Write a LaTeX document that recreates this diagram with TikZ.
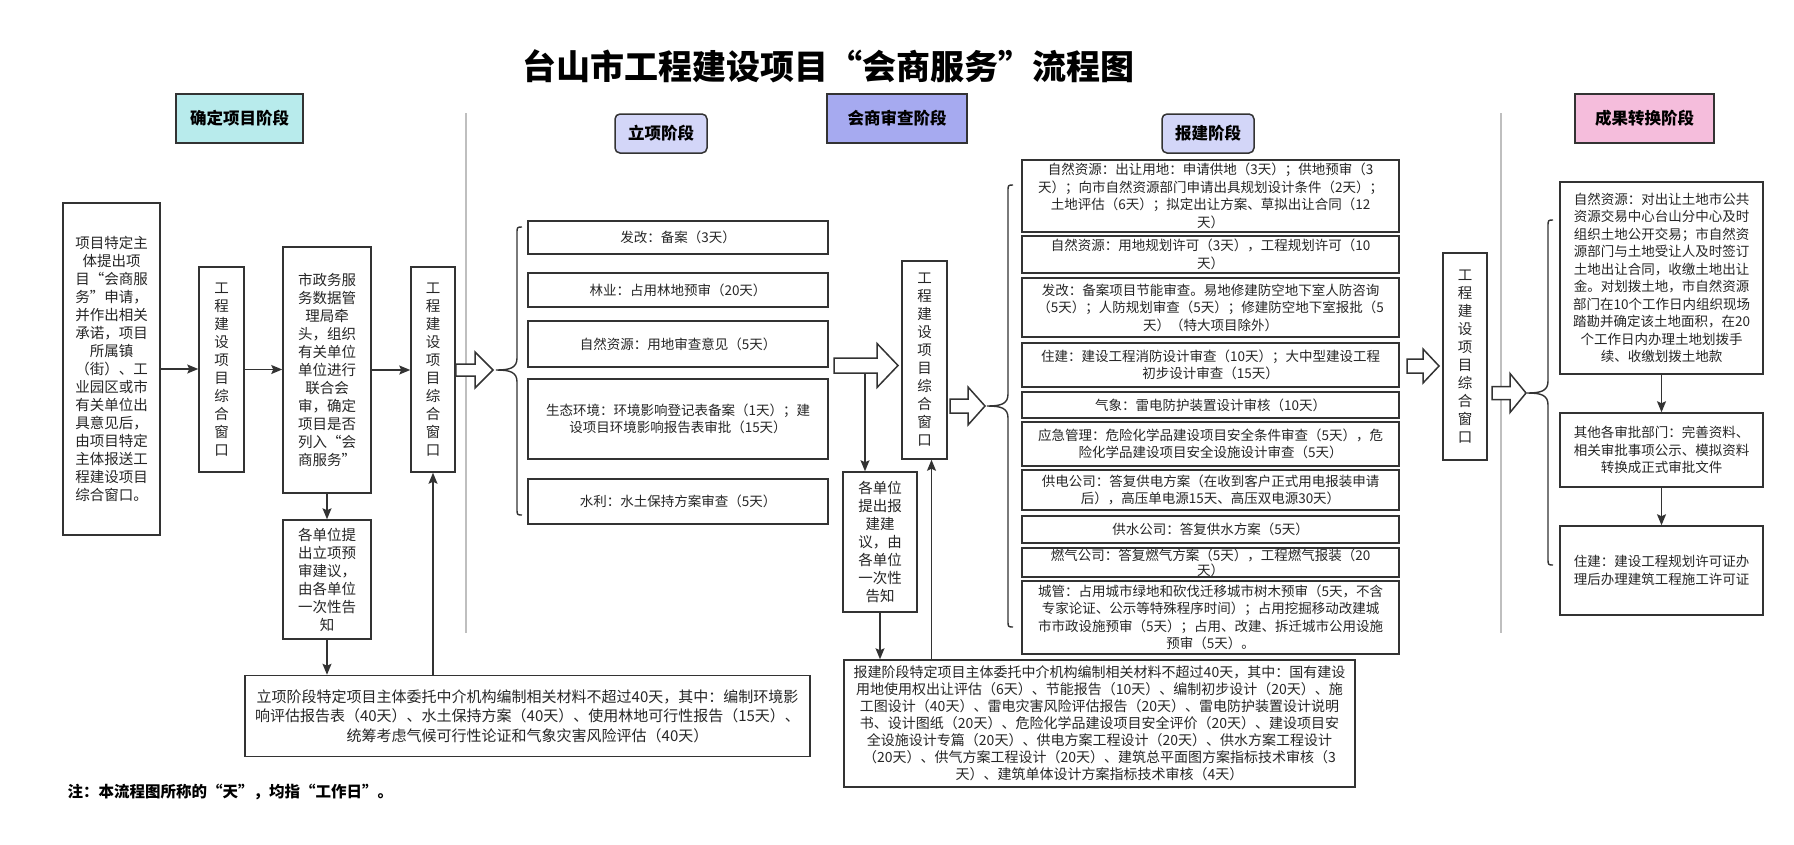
\documentclass[tikz,border=0pt]{standalone}
\usepackage{fontspec}
\setmainfont{Noto Sans CJK SC}
\newfontfamily\fwq[RawFeature=+fwid]{Noto Sans CJK SC}
\usetikzlibrary{calc,arrows.meta}
\definecolor{cyanbox}{HTML}{B8EBEC}
\definecolor{lavbox}{HTML}{D3D6F8}
\definecolor{perbox}{HTML}{A6AAF0}
\definecolor{pinkbox}{HTML}{F5BDDC}
\newcommand\openq{{\fwq “}}
\newcommand\closeq{{\fwq ”}}
\def\vwin{工\\程\\建\\设\\项\\目\\综\\合\\窗\\口}
\def\leftbrace(#1,#2,#3,#4){\draw[bracel] (#1+5,#2) .. controls (#1,#2) .. (#1,#2+7) -- (#1,#4-12) .. controls (#1,#4-2) and (#1-7,#4) .. (#1-21,#4) .. controls (#1-7,#4) and (#1,#4+2) .. (#1,#4+12) -- (#1,#3-7) .. controls (#1,#3) .. (#1+5,#3);}
\def\fatarrow(#1)(#2)(#3:#4:#5){\draw[fat] ($(#1)+(0,-#5)$) -- ($(#2)+(-#3,-#5)$) -- ($(#2)+(-#3,-#4)$) -- (#2) -- ($(#2)+(-#3,#4)$) -- ($(#2)+(-#3,#5)$) -- ($(#1)+(0,#5)$) -- cycle;}
\tikzset{
	box/.style={draw=black!80, line width=1.5pt, fill=white, inner sep=0pt, align=center, text=black!85},
	sz/.style 2 args={minimum width=#1pt, minimum height=#2pt},
	txtS/.style={font=\fontsize{13.5pt}{17.5pt}\selectfont},
	txtM/.style={font=\fontsize{14.5pt}{18pt}\selectfont},
	stagebox/.style={box, text=black, font=\bfseries\fontsize{16.5pt}{18pt}\selectfont},
	arr/.style={draw=black!80, line width=1.4pt, -{Stealth[length=11pt,width=9pt,inset=2pt]}},
	fat/.style={draw=black!80, line width=1.5pt, fill=white, line join=miter},
	bracel/.style={draw=black!80, line width=1.4pt},
	sep/.style={draw=black!25, line width=2pt},
}
\begin{document}
\begin{tikzpicture}[x=1pt,y=-1pt]
		%%%%% START %%%%%
		\useasboundingbox (0,0) rectangle (1794,844);
		
		\node[font=\bfseries\fontsize{34pt}{36pt}\selectfont] (title) at (828.5,66) {台山市工程建设项目\openq 会商服务\closeq 流程图};
		
		\draw[sep] (466,113) -- (466,633);
		\draw[sep] (1501,113) -- (1501,633);
		
		\node[stagebox, fill=cyanbox, sz={127}{49}] (hd1) at (239.5,118.5) {确定项目阶段};
		\node[stagebox, fill=lavbox, rounded corners=5pt, sz={92}{39}] (hd2) at (661,133.5) {立项阶段};
		\node[stagebox, fill=perbox, sz={140}{49}] (hd3) at (897,118.5) {会商审查阶段};
		\node[stagebox, fill=lavbox, rounded corners=5pt, sz={92}{39}] (hd4) at (1208,133.5) {报建阶段};
		\node[stagebox, fill=pinkbox, sz={139}{49}] (hd5) at (1644.5,118.5) {成果转换阶段};
		
		% determine stage
		\node[box, txtM, sz={97}{332}] (p1) at (111.5,369) {项目特定主\\体提出项\\目\openq 会商服\\务\closeq 申请，\\并作出相关\\承诺，项目\\所属镇\\（街）、工\\业园区或市\\有关单位出\\具意见后，\\由项目特定\\主体报送工\\程建设项目\\综合窗口。};
		\node[box, txtM, sz={45}{205}] (w1) at (221.5,369.5) {\vwin};
		\node[box, txtM, sz={88}{246}] (p2) at (327,370) {市政务服\\务数据管\\理局牵\\头，组织\\有关单位\\单位进行\\联合会\\审，确定\\项目是否\\列入\openq 会\\商服务\closeq};
		\node[box, txtM, sz={44}{205}] (w2) at (433,369.5) {\vwin};
		\node[box, txtM, sz={88}{119}] (p3) at (327,579.5) {各单位提\\出立项预\\审建议，\\由各单位\\一次性告\\知};
		\node[box, font=\fontsize{15pt}{19.5pt}\selectfont, sz={565}{81}] (b1) at (527.5,716) {立项阶段特定项目主体委托中介机构编制相关材料不超过40天，其中：编制环境影\\响评估报告表（40天）、水土保持方案（40天）、使用林地可行性报告（15天）、\\统筹考虑气候可行性论证和气象灾害风险评估（40天）};
		
		\draw[arr] (p1.east) -- (p1.east -| w1.west);
		\draw[arr] (w1.east) -- (w1.east -| p2.west);
		\draw[arr] (p2.east) -- (p2.east -| w2.west);
		\draw[arr] (p2.south) -- (p3.north);
		\draw[arr] (p3.south) -- (p3.south |- b1.north);
		\draw[arr] (b1.north -| w2.south) -- (w2.south);
		
		% project stage
		\node[box, txtS, sz={300}{33}] (l1) at (678,237.5) {发改：备案（3天）};
		\node[box, txtS, sz={300}{34}] (l2) at (678,290) {林业：占用林地预审（20天）};
		\node[box, txtS, sz={300}{46}] (l3) at (678,344) {自然资源：用地审查意见（5天）};
		\node[box, txtS, sz={300}{80}] (l4) at (678,419) {生态环境：环境影响登记表备案（1天）；建\\设项目环境影响报告表审批（15天）};
		\node[box, txtS, sz={300}{45}] (l5) at (678,501.5) {水利：水土保持方案审查（5天）};
		
		\coordinate (t1) at (493,370);
		\coordinate (f1) at (w2.east |- t1);
		\fatarrow(f1)(t1)(18:18:6);
		\leftbrace(517,227,515,370);
		
		% joint review
		\node[box, txtM, sz={45}{198}] (w3) at (924.5,360) {\vwin};
		\node[box, txtM, sz={74}{140}] (p4) at (880,542) {各单位\\提出报\\建建\\议，由\\各单位\\一次性\\告知};
		\node[box, font=\fontsize{14pt}{17pt}\selectfont, sz={511}{127}] (b2) at (1099.5,723.5) {报建阶段特定项目主体委托中介机构编制相关材料不超过40天，其中：国有建设\\用地使用权出让评估（6天）、节能报告（10天）、编制初步设计（20天）、施\\工图设计（40天）、雷电灾害风险评估报告（20天）、雷电防护装置设计说明\\书、设计图纸（20天）、危险化学品建设项目安全评价（20天）、建设项目安\\全设施设计专篇（20天）、供电方案工程设计（20天）、供水方案工程设计\\（20天）、供气方案工程设计（20天）、建筑总平面图方案指标技术审核（3\\天）、建筑单体设计方案指标技术审核（4天）};
		
		\coordinate (f2) at (834,365.5);
		\coordinate (t2) at (898,365.5);
		\fatarrow(f2)(t2)(21:22:7.5);
		\coordinate (d2) at (865,373);
		\draw[arr] (d2) -- (d2 |- p4.north);
		\draw[arr] (p4.south) -- (p4.south |- b2.north);
		\draw[arr] ($(b2.north -| w3.south)+(7,0)$) -- ($(w3.south)+(7,0)$);
		
		% construction stage
		\node[box, txtS, sz={377}{72}] (s1) at (1210.5,196) {自然资源：出让用地：申请供地（3天）；供地预审（3\\天）；向市自然资源部门申请出具规划设计条件（2天）；\\土地评估（6天）；拟定出让方案、草拟出让合同（12\\天）};
		\node[box, txtS, sz={377}{37}] (s2) at (1210.5,254.5) {自然资源：用地规划许可（3天），工程规划许可（10\\天）};
		\node[box, txtS, sz={377}{59}] (s3) at (1210.5,307.5) {发改：备案项目节能审查。易地修建防空地下室人防咨询\\（5天）；人防规划审查（5天）；修建防空地下室报批（5\\天）（特大项目除外）};
		\node[box, txtS, sz={377}{44}] (s4) at (1210.5,365) {住建：建设工程消防设计审查（10天）；大中型建设工程\\初步设计审查（15天）};
		\node[box, txtS, sz={377}{26}] (s5) at (1210.5,405) {气象：雷电防护装置设计审核（10天）};
		\node[box, txtS, sz={377}{44}] (s6) at (1210.5,444) {应急管理：危险化学品建设项目安全条件审查（5天），危\\险化学品建设项目安全设施设计审查（5天）};
		\node[box, txtS, sz={377}{40}] (s7) at (1210.5,490) {供电公司：答复供电方案（在收到客户正式用电报装申请\\后），高压单电源15天、高压双电源30天）};
		\node[box, txtS, sz={377}{27}] (s8) at (1210.5,529.5) {供水公司：答复供水方案（5天）};
		\node[box, font=\fontsize{13.5pt}{15pt}\selectfont, sz={377}{29}] (s9) at (1210.5,562.5) {燃气公司：答复燃气方案（5天），工程燃气报装（20\\天）};
		\node[box, txtS, sz={377}{73}] (s10) at (1210.5,617.5) {城管：占用城市绿地和砍伐迁移城市树木预审（5天，不含\\专家论证、公示等特殊程序时间）；占用挖掘移动改建城\\市市政设施预审（5天）；占用、改建、拆迁城市公用设施\\预审（5天）。};
		
		\coordinate (f3) at (950,406);
		\coordinate (t3) at (985,406);
		\fatarrow(f3)(t3)(17:19:7);
		\leftbrace(1008,185,627,406);
		
		% result stage
		\node[box, txtM, sz={44}{207}] (w4) at (1465,356.5) {\vwin};
		\node[box, txtS, sz={203}{192}] (r1) at (1661.5,278) {自然资源：对出让土地市公共\\资源交易中心台山分中心及时\\组织土地公开交易；市自然资\\源部门与土地受让人及时签订\\土地出让合同，收缴土地出让\\金。对划拨土地，市自然资源\\部门在10个工作日内组织现场\\踏勘并确定该土地面积，在20\\个工作日内办理土地划拨手\\续、收缴划拨土地款};
		\node[box, txtS, sz={203}{74}] (r2) at (1661.5,450) {其他各审批部门：完善资料、\\相关审批事项公示、模拟资料\\转换成正式审批文件};
		\node[box, txtS, sz={203}{89}] (r3) at (1661.5,570.5) {住建：建设工程规划许可证办\\理后办理建筑工程施工许可证};
		
		\coordinate (f4) at (1407,366);
		\coordinate (t4) at (1439,366);
		\fatarrow(f4)(t4)(16:17:7);
		\coordinate (f5) at (1492,393);
		\coordinate (t5) at (1526,393);
		\fatarrow(f5)(t5)(16:19.5:6.5);
		\leftbrace(1548,220,565,393);
		
		\draw[arr] (r1.south) -- (r2.north);
		\draw[arr] (r2.south) -- (r3.north);
		
		\node[anchor=west, font=\bfseries\fontsize{15.5pt}{17pt}\selectfont] (note) at (64,792) {注：本流程图所称的\openq 天\closeq ，均指\openq 工作日\closeq 。};
		
		%%%%% END %%%%%
\end{tikzpicture}
\end{document}
